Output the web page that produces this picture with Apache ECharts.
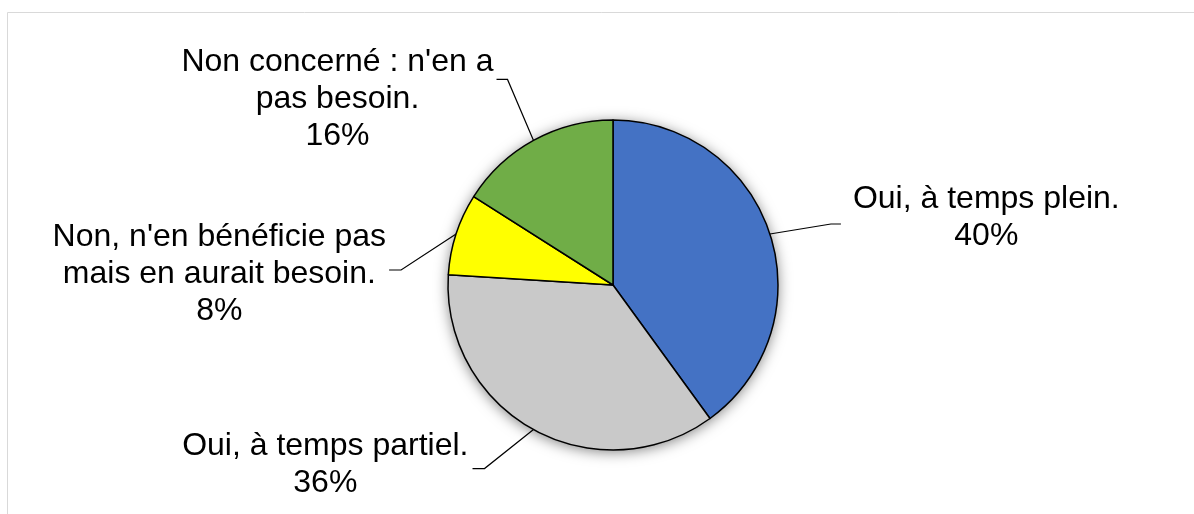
<!DOCTYPE html>
<html>
<head>
<meta charset="utf-8">
<script src="https://cdn.jsdelivr.net/npm/echarts@6/dist/echarts.min.js"></script>
<style>
  html, body { margin: 0; padding: 0; background: #fff; }
  #chart { width: 1194px; height: 514px; }
</style>
</head>
<body>
<div id="chart"></div>
<script>
// categories (line breaks as in the original labels)
const categories = [
  'Oui, à temps plein.',
  'Oui, à temps partiel.',
  'Non, n\'en bénéficie pas\nmais en aurait besoin.',
  'Non concerné : n\'en a\npas besoin.'
]
const values = [40, 36, 8, 16]
const colors = ['#4472C4', '#C9C9C9', '#FFFF00', '#70AD47']

// leader line shape per slice, relative to the point on the pie edge
// elbow: bend point, end: end of the short horizontal piece, text: label anchor from end
const leaders = [
  { elbow: [61, -10], end: [71, -10], text: [12, -6], align: 'left' },
  { elbow: [-49, 39], end: [-61, 39], text: [-4, -4], align: 'right' },
  { elbow: [-55, 36], end: [-67, 36], text: [-3, 4], align: 'right' },
  { elbow: [-26, -61], end: [-37, -61], text: [-3, 20], align: 'right' }
]

const chart = echarts.init(document.getElementById('chart'))

const option = {
  backgroundColor: '#fff',
  animation: false,
  graphic: [{
    type: 'rect',
    shape: { x: 7.5, y: 12.5, width: 1300, height: 600 },
    style: { fill: 'none', stroke: '#D9D9D9', lineWidth: 1 },
    silent: true,
    z: -10
  }],
  series: [
    {
      // soft shadow behind the pie
      type: 'pie',
      center: [613, 285],
      radius: 165,
      silent: true,
      label: { show: false },
      labelLine: { show: false },
      itemStyle: {
        color: '#fff',
        shadowBlur: 14,
        shadowColor: 'rgba(0,0,0,0.5)',
        shadowOffsetY: 2
      },
      data: [{ value: 1, name: '' }],
      z: 1
    },
    {
      type: 'pie',
      center: [613, 285],
      radius: 165,
      startAngle: 90,
      clockwise: true,
      avoidLabelOverlap: false,
      z: 2,
      itemStyle: {
        borderColor: '#000',
        borderWidth: 1.5
      },
      label: {
        show: true,
        position: 'outside',
        color: '#000',
        fontFamily: 'Liberation Sans, Arial, sans-serif',
        fontSize: 32,
        lineHeight: 37,
        formatter: function (p) {
          const lines = p.name.split('\n')
          lines.push(Math.round(p.percent) + '%')
          return lines.map(l => '{t|' + l + '}').join('\n')
        },
        rich: {
          t: {
            align: 'center',
            color: '#000',
            fontFamily: 'Liberation Sans, Arial, sans-serif',
            fontSize: 32,
            lineHeight: 37
          }
        }
      },
      labelLine: {
        show: true,
        length: 20,
        length2: 10,
        lineStyle: { color: '#000', width: 1.2 }
      },
      labelLayout: function (params) {
        const l = leaders[params.dataIndex]
        const pts = params.labelLinePoints
        if (!l || !pts) return {}
        const a = pts[0]
        const e = [a[0] + l.elbow[0], a[1] + l.elbow[1]]
        const f = [a[0] + l.end[0], a[1] + l.end[1]]
        return {
          x: f[0] + l.text[0],
          y: f[1] + l.text[1],
          align: l.align,
          verticalAlign: 'middle',
          labelLinePoints: [a, e, f]
        }
      },
      data: categories.map((name, i) => ({
        name: name,
        value: values[i],
        itemStyle: { color: colors[i] }
      }))
    }
  ]
}

chart.setOption(option)
</script>
</body>
</html>
